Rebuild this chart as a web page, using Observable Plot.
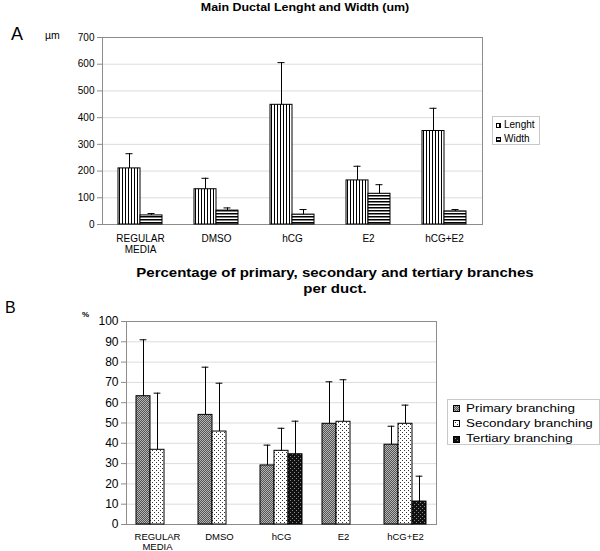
<!DOCTYPE html>
<html>
<head>
<meta charset="utf-8">
<script src="https://cdn.jsdelivr.net/npm/d3@7"></script>
<script src="https://cdn.jsdelivr.net/npm/@observablehq/plot@0.6"></script>
<style>
  body { margin: 0; background: #fff; font-family: "Liberation Sans", Arial, sans-serif; }
  #wrap { position: relative; width: 600px; height: 551px; overflow: hidden; background: #fff; }
  .t { position: absolute; line-height: 1; white-space: nowrap; color: #000; }
  .legend { position: absolute; border: 1px solid #c8c8c8; background: #fff; box-sizing: border-box; }
  .legend .sw { position: absolute; }
</style>
</head>
<body>
<div id="wrap">
  <svg width="0" height="0" style="position:absolute">
    <defs>
      <pattern id="pVert" patternUnits="userSpaceOnUse" width="3" height="3">
        <rect width="3" height="3" fill="#fff"/>
        <rect x="0" y="0" width="1" height="3" fill="#000"/>
      </pattern>
      <pattern id="pHoriz" patternUnits="userSpaceOnUse" width="3" height="3">
        <rect width="3" height="3" fill="#fff"/>
        <rect x="0" y="0" width="3" height="1.5" fill="#000"/>
      </pattern>
      <pattern id="pPrim" patternUnits="userSpaceOnUse" width="2" height="2">
        <rect width="2" height="2" fill="#555"/>
        <rect x="0" y="0" width="1" height="1" fill="#b4b4b4"/>
        <rect x="1" y="1" width="1" height="1" fill="#b4b4b4"/>
      </pattern>
      <pattern id="pSec" patternUnits="userSpaceOnUse" width="4" height="4">
        <rect width="4" height="4" fill="#fff"/>
        <rect x="0" y="0" width="1" height="1" fill="#333"/>
        <rect x="2" y="2" width="1" height="1" fill="#333"/>
      </pattern>
      <pattern id="pTer" patternUnits="userSpaceOnUse" width="4" height="4">
        <rect width="4" height="4" fill="#111"/>
        <rect x="0" y="0" width="1" height="1" fill="#8a8a8a"/>
        <rect x="2" y="2" width="1" height="1" fill="#8a8a8a"/>
      </pattern>
    </defs>
  </svg>
</div>
<script>
// ---------- Data ----------
const categories = ["REGULAR MEDIA", "DMSO", "hCG", "E2", "hCG+E2"];

// Panel A: main ductal length and width (um)
const seriesA = ["Lenght", "Width"];
const lengthMean = [210, 132, 448, 165, 350];
const lengthErr  = [55, 41, 158, 53, 85];
const widthMean  = [34, 52, 37, 115, 49];
const widthErr   = [7, 10, 19, 34, 7];
const yTicksA = [0, 100, 200, 300, 400, 500, 600, 700];

// Panel B: percentage of primary, secondary, tertiary branches per duct
const seriesB = ["Primary branching", "Secondary branching", "Tertiary branching"];
const primaryMean   = [63.2, 54.0, 29.1, 49.6, 39.3];
const primaryErr    = [27.8, 23.5, 10.0, 20.7, 9.1];
const secondaryMean = [36.8, 45.8, 36.3, 50.6, 49.6];
const secondaryErr  = [27.9, 23.8, 11.1, 20.7, 9.2];
const tertiaryMean  = [0, 0, 34.6, 0, 11.3];
const tertiaryErr   = [0, 0, 16.3, 0, 12.5];
const yTicksB = [0, 10, 20, 30, 40, 50, 60, 70, 80, 90, 100];

// ---------- Styles ----------
const FONT = "'Liberation Sans', Arial, sans-serif";
const fillA = ["url(#pVert)", "url(#pHoriz)"];
const fillB = ["url(#pPrim)", "url(#pSec)", "url(#pTer)"];

const wrap = document.getElementById("wrap");

function rows(series, means, errs) {
  return series.map((s, k) => categories.map((c, i) => ({cat: c, series: s, mean: means[k][i], err: errs[k][i]})));
}

function groupedChart(cfg) {
  const groups = rows(cfg.series, cfg.means, cfg.errs);
  const all = groups.flat();
  const withErr = all.filter(d => d.err > 0);
  return Plot.plot({
    width: 600,
    height: cfg.height,
    marginLeft: cfg.ml, marginRight: cfg.mr, marginTop: cfg.mt, marginBottom: cfg.mb,
    style: {fontFamily: FONT, fontSize: cfg.tickFont + "px", background: "transparent", color: "#000", overflow: "visible"},
    fx: {domain: categories, padding: 0, label: null, axis: null},
    x: {domain: cfg.series, paddingInner: 0, paddingOuter: cfg.outer, axis: null},
    y: {domain: [cfg.yTicks[0], cfg.yTicks[cfg.yTicks.length - 1]], label: null, axis: null},
    marks: [
      Plot.gridY(cfg.yTicks, {stroke: "#dcdcdc", strokeOpacity: 1}),
      Plot.frame({facet: "super", stroke: "#8c8c8c"}),
      ...groups.map((g, k) => Plot.barY(g, {fx: "cat", x: "series", y: "mean", fill: cfg.fills[k], stroke: "#000", strokeWidth: 1})),
      Plot.ruleX(withErr, {fx: "cat", x: "series", y1: "mean", y2: d => d.mean + d.err, stroke: "#000"}),
      Plot.tickY(withErr, {fx: "cat", x: "series", y: d => d.mean + d.err, insetLeft: cfg.capInset, insetRight: cfg.capInset, stroke: "#000"}),
      Plot.axisY(cfg.yTicks, {anchor: "left", tickSize: 5, tickPadding: 3, stroke: "#8c8c8c", fill: "#000", label: null, fontSize: cfg.tickFont}),
      Plot.axisFx({anchor: "bottom", tickSize: 0, tickPadding: cfg.catPad, label: null, fontSize: cfg.catFont,
        lineHeight: cfg.catLH, tickFormat: d => d.replace(" ", "\n")})
    ]
  });
}

const plotA = groupedChart({
  height: 260, ml: 100, mr: 116, mt: 37, mb: 36, outer: 0.71, capInset: 7.5,
  series: seriesA, means: [lengthMean, widthMean], errs: [lengthErr, widthErr],
  fills: fillA, yTicks: yTicksA, tickFont: 10, catFont: 10, catPad: 9.7, catLH: 1.1
});
plotA.style.position = "absolute"; plotA.style.left = "0px"; plotA.style.top = "0px";
wrap.appendChild(plotA);

const plotB = groupedChart({
  height: 291, ml: 124, mr: 162, mt: 61, mb: 27, outer: 0.71, capInset: 3.6,
  series: seriesB, means: [primaryMean, secondaryMean, tertiaryMean], errs: [primaryErr, secondaryErr, tertiaryErr],
  fills: fillB, yTicks: yTicksB, tickFont: 12, catFont: 9.5, catPad: 8.6, catLH: 1.05
});
plotB.style.position = "absolute"; plotB.style.left = "0px"; plotB.style.top = "260px";
wrap.appendChild(plotB);

// ---------- Text helpers ----------
function txt(parent, s, o) {
  const d = document.createElement("div");
  d.className = "t";
  d.textContent = s;
  d.style.fontSize = o.size + "px";
  if (o.bold) d.style.fontWeight = "bold";
  d.style.top = (o.baseline - 0.8465 * o.size) + "px";
  d.style.left = o.left + "px";
  const sx = o.sx || 1;
  if (o.center) {
    d.style.transformOrigin = "50% 50%";
    d.style.transform = `translateX(-50%) scaleX(${sx})`;
  } else if (sx !== 1) {
    d.style.transformOrigin = "0 50%";
    d.style.transform = `scaleX(${sx})`;
  }
  parent.appendChild(d);
  return d;
}

function legend(o) {
  const box = document.createElement("div");
  box.className = "legend";
  Object.assign(box.style, {left: o.left + "px", top: o.top + "px", width: o.w + "px", height: o.h + "px"});
  o.items.forEach((name, i) => {
    const cy = o.rows[i];
    const sw = document.createElementNS("http://www.w3.org/2000/svg", "svg");
    sw.setAttribute("class", "sw");
    sw.setAttribute("width", o.sw[0] + 1);
    sw.setAttribute("height", o.sw[1] + 1);
    sw.style.left = o.swLeft + "px";
    sw.style.top = (cy - o.sw[1] / 2) + "px";
    const r = document.createElementNS("http://www.w3.org/2000/svg", "rect");
    r.setAttribute("x", 0.5); r.setAttribute("y", 0.5);
    r.setAttribute("width", o.sw[0]); r.setAttribute("height", o.sw[1]);
    r.setAttribute("fill", o.fills[i]); r.setAttribute("stroke", "#000"); r.setAttribute("stroke-width", 1);
    sw.appendChild(r);
    box.appendChild(sw);
    txt(box, name, {size: o.size, left: o.textLeft, baseline: cy + 0.36 * o.size, sx: o.sx});
  });
  wrap.appendChild(box);
}

// Panel A texts
txt(wrap, "Main Ductal Lenght and Width (um)", {size: 11, bold: true, center: true, left: 305, baseline: 11, sx: 1.13});
txt(wrap, "A", {size: 18, left: 11, baseline: 40});
txt(wrap, "\u00b5m", {size: 10.5, left: 45, baseline: 39});
legend({left: 492, top: 116, w: 48, h: 29, items: seriesA, fills: fillA, rows: [7.5, 21.5],
  sw: [4, 4], swLeft: 3, textLeft: 11, size: 10});

// Panel B texts
txt(wrap, "Percentage of primary, secondary and tertiary branches", {size: 12.5, bold: true, center: true, left: 335, baseline: 277.5, sx: 1.2});
txt(wrap, "per duct.", {size: 12.5, bold: true, center: true, left: 335, baseline: 293.5, sx: 1.2});
txt(wrap, "B", {size: 16, left: 5, baseline: 313.5});
txt(wrap, "%", {size: 8, bold: true, left: 82, baseline: 318});
legend({left: 447, top: 399, w: 153, h: 46, items: seriesB, fills: fillB, rows: [8, 23.4, 38.7],
  sw: [6, 6], swLeft: 5, textLeft: 18, size: 11, sx: 1.22});
</script>
</body>
</html>
